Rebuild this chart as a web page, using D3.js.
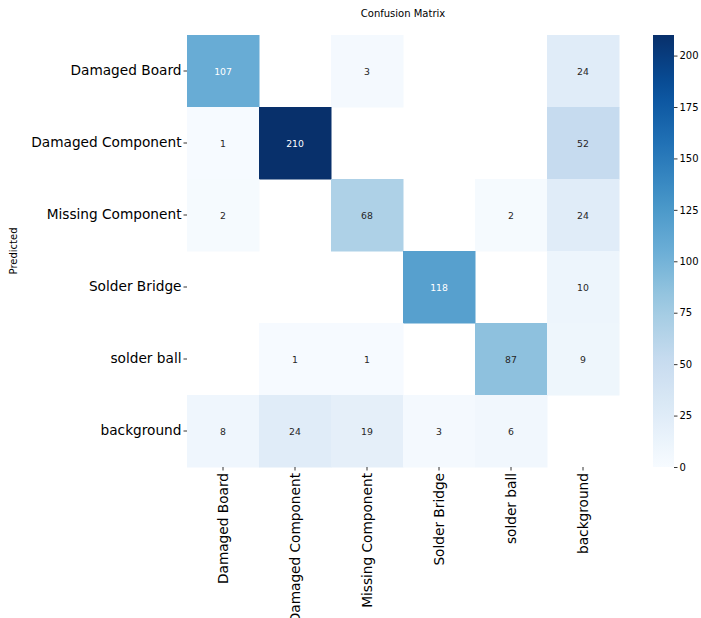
<!DOCTYPE html>
<html><head><meta charset="utf-8">
<script src="https://cdn.jsdelivr.net/npm/d3@7"></script>
<style>body{margin:0;background:#fff;overflow:hidden}text{font-family:"DejaVu Sans",sans-serif}</style>
</head><body><svg id="c" width="701" height="618"></svg>
<script>
const classes = ["Damaged Board","Damaged Component","Missing Component","Solder Bridge","solder ball","background"];
// rows = predicted, columns = true
const rowDamagedBoard     = [107, 0, 3, 0, 0, 24];
const rowDamagedComponent = [1, 210, 0, 0, 0, 52];
const rowMissingComponent = [2, 0, 68, 0, 2, 24];
const rowSolderBridge     = [0, 0, 0, 118, 0, 10];
const rowSolderBall       = [0, 1, 1, 0, 87, 9];
const rowBackground       = [8, 24, 19, 3, 6, 0];
const matrix = [rowDamagedBoard,rowDamagedComponent,rowMissingComponent,rowSolderBridge,rowSolderBall,rowBackground];
const colorbarTicks = [0,25,50,75,100,125,150,175,200];
const vmax = 210;

const svg = d3.select("#c");
const L=187, T=35, S=432;
const x = d3.scaleBand().domain(classes).range([L,L+S]);
const y = d3.scaleBand().domain(classes).range([T,T+S]);
const blues = d3.piecewise(d3.interpolateRgb, ["#f7fbff","#deebf7","#c6dbef","#9ecae1","#6baed6","#4292c6","#2171b5","#08519c","#08306b"]);
const color = d3.scaleSequential(blues).domain([0,vmax]);

function lum(c){const r=d3.rgb(c);const f=v=>{v/=255;return v<=0.03928?v/12.92:Math.pow((v+0.055)/1.055,2.4)};return 0.2126*f(r.r)+0.7152*f(r.g)+0.0722*f(r.b);}

const cells=[];
matrix.forEach((row,i)=>row.forEach((v,j)=>{ if(v>0) cells.push({r:classes[i],c:classes[j],v}); }));
const g=svg.append("g");
g.selectAll("rect").data(cells).join("rect")
 .attr("x",d=>x(d.c)).attr("y",d=>y(d.r)).attr("width",x.bandwidth()+0.5).attr("height",y.bandwidth()+0.5)
 .attr("fill",d=>color(d.v));
g.selectAll("text").data(cells).join("text")
 .attr("x",d=>x(d.c)+x.bandwidth()/2).attr("y",d=>y(d.r)+y.bandwidth()/2)
 .attr("text-anchor","middle").attr("dominant-baseline","central").attr("font-size",9.3)
 .attr("fill",d=>lum(color(d.v))>0.408?"#262626":"#ffffff").text(d=>d.v);

// y axis
const ya=svg.append("g").attr("transform",`translate(${L},0)`).call(d3.axisLeft(y).tickSize(3.5).tickPadding(2));
ya.select(".domain").remove();
ya.selectAll("text").attr("font-size",13.7).attr("fill","#000").style("font-family","DejaVu Sans");
ya.selectAll("line").attr("stroke","#000").attr("stroke-width",0.8);
// x axis
const xa=svg.append("g").attr("transform",`translate(0,${T+S})`).call(d3.axisBottom(x).tickSize(3.5).tickPadding(2));
xa.select(".domain").remove();
xa.selectAll("text").attr("font-size",13.7).attr("fill","#000").style("font-family","DejaVu Sans")
 .attr("transform","rotate(-90)").attr("text-anchor","end").attr("dy","0.35em").attr("x",-6).attr("y",0);
xa.selectAll("line").attr("stroke","#000").attr("stroke-width",0.8);

// title, labels
svg.append("text").attr("x",L+S/2).attr("y",17).attr("text-anchor","middle").attr("font-size",10).text("Confusion Matrix");
svg.append("text").attr("transform",`translate(17,${T+S/2}) rotate(-90)`).attr("text-anchor","middle").attr("font-size",10).text("Predicted");

// colorbar
const cbX=653, cbW=21;
const cy=d3.scaleLinear().domain([0,vmax]).range([T+S,T]);
const defs=svg.append("defs");
const grad=defs.append("linearGradient").attr("id","cb").attr("x1",0).attr("y1",1).attr("x2",0).attr("y2",0);
d3.range(0,1.0001,0.05).forEach(t=>grad.append("stop").attr("offset",t).attr("stop-color",blues(t)));
svg.append("rect").attr("x",cbX).attr("y",T).attr("width",cbW).attr("height",S).attr("fill","url(#cb)");
const ca=svg.append("g").attr("transform",`translate(${cbX+cbW},0)`).call(d3.axisRight(cy).tickValues(colorbarTicks).tickSize(3.5).tickPadding(2));
ca.select(".domain").remove();
ca.selectAll("text").attr("font-size",10).attr("fill","#000").style("font-family","DejaVu Sans");
ca.selectAll("line").attr("stroke","#000").attr("stroke-width",0.8);
</script></body></html>
